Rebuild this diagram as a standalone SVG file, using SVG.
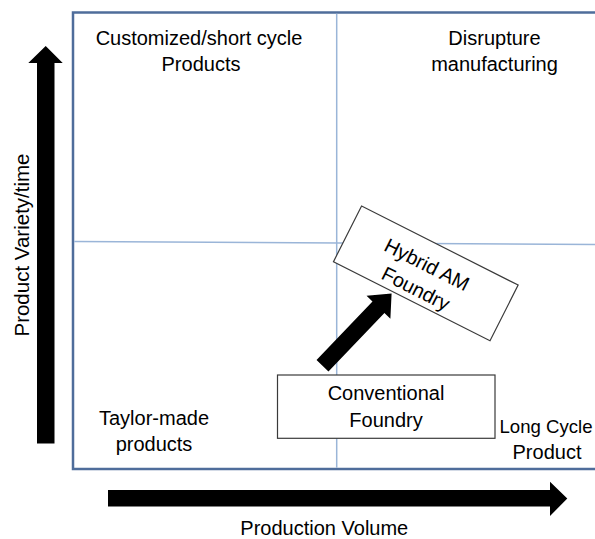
<svg xmlns="http://www.w3.org/2000/svg" width="595" height="539" viewBox="0 0 595 539">
  <style>
    text { font-family: "Liberation Sans", Arial, sans-serif; font-size: 20px; fill: #000; text-anchor: middle; }
    .frame { fill: none; stroke: #4f6d9b; stroke-width: 2.5; }
    .divider { fill: none; stroke: #9ab5d8; stroke-width: 1.5; }
    .box { fill: #fff; stroke: #3a3a3a; stroke-width: 1.2; }
    .solid-arrow { fill: #000; }
  </style>

  <rect width="595" height="539" fill="#fff"/>

  <!-- Matrix frame and quadrant dividers -->
  <g id="matrix">
    <rect class="frame" x="73" y="12.5" width="540" height="456.5"/>
    <line class="divider" x1="336.7" y1="13.8" x2="336.7" y2="467.8"/>
    <line class="divider" x1="74.2" y1="241.5" x2="595" y2="244.5"/>
  </g>

  <!-- Axis arrows -->
  <g id="axis-y">
    <polygon class="solid-arrow" points="37,443.5 37,63 28.3,63 45.7,46 62.7,63 54.5,63 54.5,443.5"/>
    <text transform="translate(28.5,245) rotate(-90)" style="font-size:20.5px">Product Variety/time</text>
  </g>
  <g id="axis-x">
    <polygon class="solid-arrow" points="108,490 550,490 550,481.7 567.3,498.5 550,516 550,506.5 108,506.5"/>
    <text x="324.3" y="535">Production Volume</text>
  </g>

  <!-- Quadrant labels -->
  <g id="quadrant-top-left">
    <text x="199" y="44.5">Customized/short cycle</text>
    <text x="201" y="71">Products</text>
  </g>
  <g id="quadrant-top-right">
    <text x="494.5" y="44.5">Disrupture</text>
    <text x="494.5" y="71">manufacturing</text>
  </g>
  <g id="quadrant-bottom-left">
    <text x="154" y="425">Taylor-made</text>
    <text x="154" y="451">products</text>
  </g>
  <g id="quadrant-bottom-right">
    <text x="546" y="433" style="font-size:18.6px">Long Cycle</text>
    <text x="547" y="458.5">Product</text>
  </g>

  <!-- Connector: conventional -> hybrid -->
  <g id="connectors">
    <polygon class="solid-arrow" transform="translate(322.5,365.8) rotate(-46.3)"
             points="0,-8.25 81,-8.25 81,-16.5 100,0 81,16.5 81,8.25 0,8.25"/>
  </g>

  <!-- Nodes -->
  <g id="node-conventional-foundry">
    <rect class="box" x="277.5" y="375" width="217.5" height="63.3"/>
    <text x="386" y="400">Conventional</text>
    <text x="386" y="426.5">Foundry</text>
  </g>

  <g id="node-hybrid-am-foundry" transform="translate(425.8,273.4) rotate(26.8)">
    <rect class="box" x="-87.7" y="-31.2" width="175.4" height="62.4"/>
    <text x="-3" y="-1.5">Hybrid AM</text>
    <text x="-2" y="25">Foundry</text>
  </g>
</svg>
